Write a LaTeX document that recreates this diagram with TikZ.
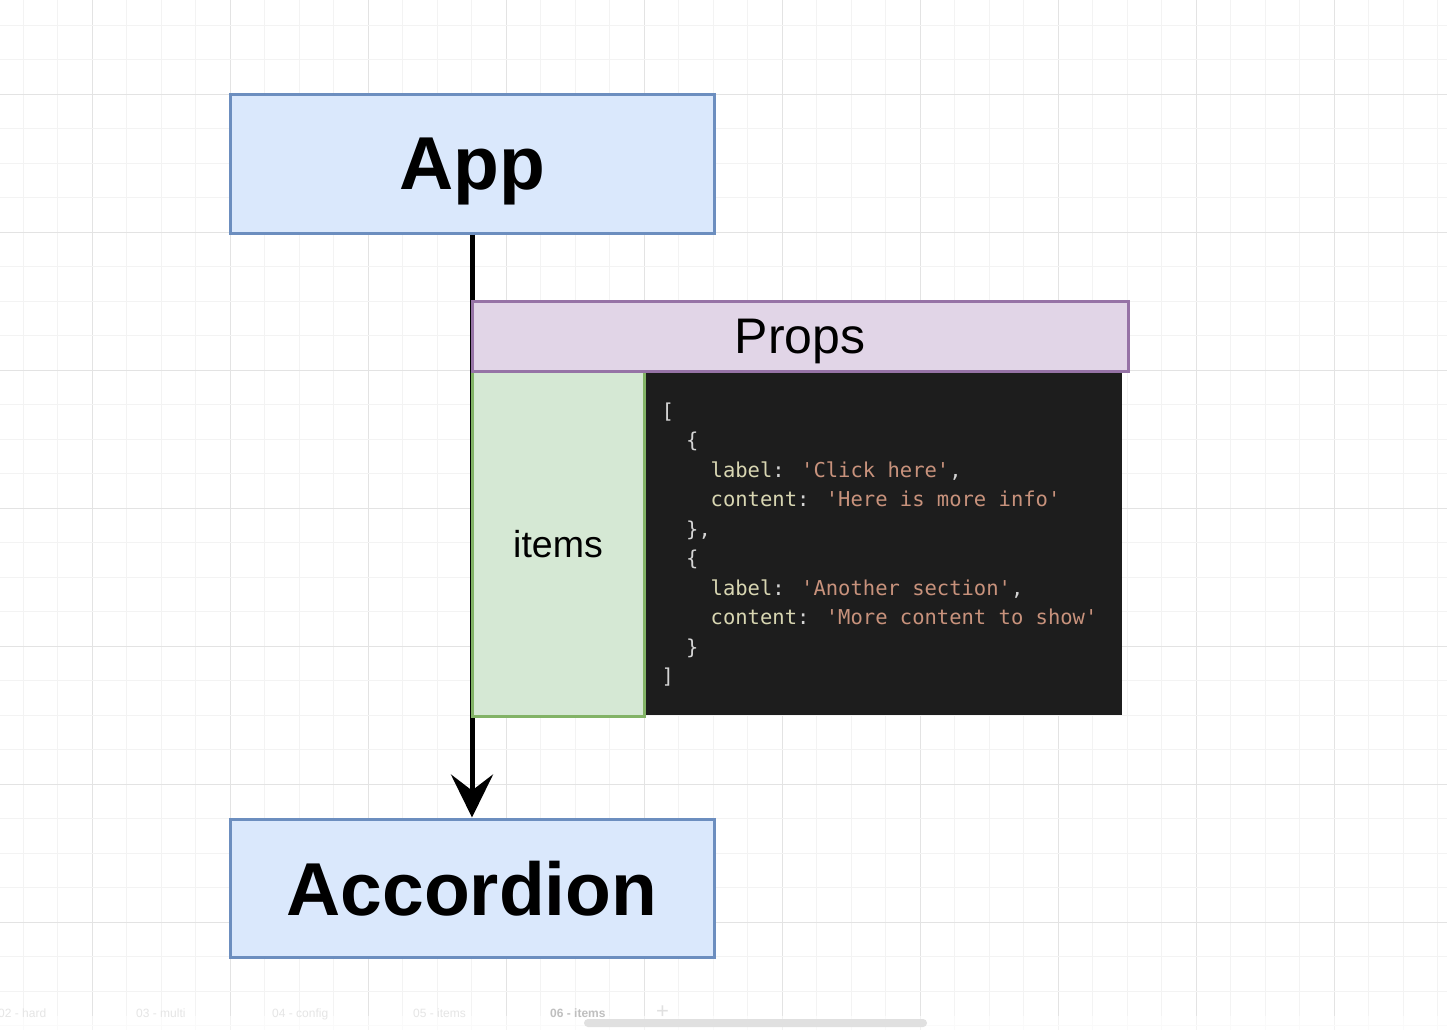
\documentclass[tikz,border=0pt]{standalone}
\usepackage{fontspec}
\setmainfont{Liberation Sans}
\newfontfamily\codefont{DejaVu Sans Mono}
\usetikzlibrary{arrows.meta}
\definecolor{appfill}{HTML}{DAE8FC}
\definecolor{appline}{HTML}{6C8EBF}
\definecolor{propfill}{HTML}{E1D5E7}
\definecolor{propline}{HTML}{9673A6}
\definecolor{itemfill}{HTML}{D5E8D4}
\definecolor{itemline}{HTML}{82B366}
\definecolor{codebg}{HTML}{1D1D1D}
\definecolor{codekey}{HTML}{D8D6B2}
\definecolor{codestr}{HTML}{C8927C}
\definecolor{codepun}{HTML}{D4D4D4}
\definecolor{gridminor}{HTML}{F3F3F3}
\definecolor{gridmajor}{HTML}{E3E3E3}
\tikzset{
  compbox/.style={draw=appline, fill=appfill, line width=3pt, text depth=0pt,
    minimum width=484pt, minimum height=138pt, inner sep=0pt,
    font=\fontsize{75}{90}\selectfont\bfseries},
  propbox/.style={draw=propline, fill=propfill, line width=3pt, text depth=0pt,
    minimum width=656pt, minimum height=70pt, inner sep=0pt,
    font=\fontsize{50}{60}\selectfont},
  itembox/.style={draw=itemline, fill=itemfill, line width=3pt, text depth=0pt,
    minimum width=172pt, minimum height=345pt, inner sep=0pt,
    font=\fontsize{37.5}{45}\selectfont},
  codebox/.style={fill=codebg, draw=none, minimum width=478pt, minimum height=344pt, inner sep=0pt},
  codeline/.style={anchor=base west, inner sep=0pt, font=\codefont\fontsize{20.5}{29.5}\selectfont, text=codepun},
  tablabel/.style={anchor=base west, inner sep=0pt, font=\fontsize{12}{14}\selectfont, text=black!10},
  flowarrow/.style={line width=5pt, -{Stealth[length=43pt,width=42pt,inset=16pt]}}
}
\newcommand{\ky}[1]{\textcolor{codekey}{#1}}
\newcommand{\st}[1]{\textcolor{codestr}{#1}}
\begin{document}
\begin{tikzpicture}[x=1pt,y=-1pt]
\useasboundingbox (0,0) rectangle (1447,1030);
\fill[white] (0,0) rectangle (1447,1030);
% grid
\foreach \i in {-2,...,39} {
  \pgfmathsetmacro{\gx}{92.3+34.5*\i}
  \pgfmathtruncatemacro{\m}{mod(\i+40,4)}
  \ifnum\m=0
    \draw[gridmajor, line width=1pt] (\gx,0) -- (\gx,1030);
  \else
    \draw[gridminor, line width=1pt] (\gx,0) -- (\gx,1030);
  \fi
}
\foreach \j in {-2,...,28} {
  \pgfmathsetmacro{\gy}{94.3+34.5*\j}
  \pgfmathtruncatemacro{\m}{mod(\j+40,4)}
  \ifnum\m=0
    \draw[gridmajor, line width=1pt] (0,\gy) -- (1447,\gy);
  \else
    \draw[gridminor, line width=1pt] (0,\gy) -- (1447,\gy);
  \fi
}
% boxes
\node[compbox] (app) at (472,164) {App};
\node[compbox] (acc) at (472,888) {Accordion};
\draw[flowarrow] (app.south) -- (acc.north);
\node[codebox] (code) at (883,543) {};
\node[itembox] (items) at (558,543.5) {items};
\node[propbox] (props) at (800,336) {Props};
% code text
\node[codeline] (l1) at (661.5,418) {[};
\node[codeline] (l2) at (686,447.5) {\{};
\node[codeline] (l3) at (710.5,477) {\ky{label}: \st{'Click here'},};
\node[codeline] (l4) at (710.5,506.5) {\ky{content}: \st{'Here is more info'}};
\node[codeline] (l5) at (686,536) {\},};
\node[codeline] (l6) at (686,565.5) {\{};
\node[codeline] (l7) at (710.5,595) {\ky{label}: \st{'Another section'},};
\node[codeline] (l8) at (710.5,624.5) {\ky{content}: \st{'More content to show'}};
\node[codeline] (l9) at (686,654) {\}};
\node[codeline] (l10) at (661.5,683.5) {]};
% bottom tab bar
\fill[white, opacity=0.6] (0,1016) rectangle (1447,1030);
\node[tablabel] (t2) at (-2,1017) {02 - hard};
\node[tablabel] (t3) at (136,1017) {03 - multi};
\node[tablabel] (t4) at (272,1017) {04 - config};
\node[tablabel] (t5) at (413,1017) {05 - items};
\node[tablabel, text=black!25, font=\fontsize{12}{14}\selectfont\bfseries] (t6) at (550,1017) {06 - items};
\node[tablabel, text=black!12, font=\fontsize{22}{24}\selectfont] (tplus) at (656,1018) {+};
\fill[black!12, rounded corners=4pt] (584,1019) rectangle (927,1027);
\end{tikzpicture}
\end{document}
